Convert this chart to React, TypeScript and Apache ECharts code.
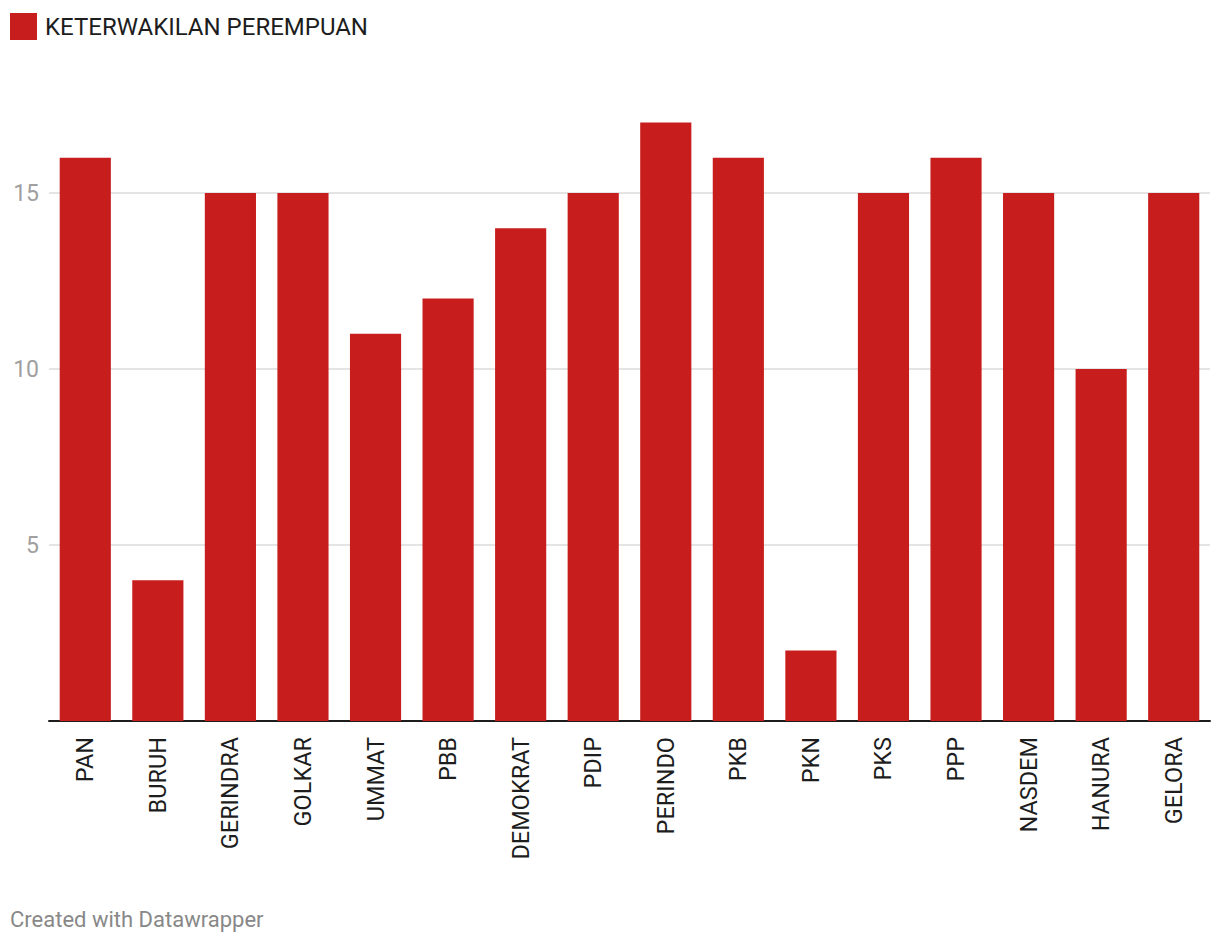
import React, { useEffect, useRef } from "react";
import * as echarts from "echarts";

const categories = ["PAN", "BURUH", "GERINDRA", "GOLKAR", "UMMAT", "PBB", "DEMOKRAT", "PDIP", "PERINDO", "PKB", "PKN", "PKS", "PPP", "NASDEM", "HANURA", "GELORA"];
const values = [16, 4, 15, 15, 11, 12, 14, 15, 17, 16, 2, 15, 16, 15, 10, 15];
const seriesName = "KETERWAKILAN PEREMPUAN";
const footer = "Created with Datawrapper";

export default function App() {
  const ref = useRef<HTMLDivElement>(null);
  useEffect(() => {
    if (!ref.current) return;
    const chart = echarts.init(ref.current, null, { renderer: "svg" });
    chart.setOption({
      animation: false,
      textStyle: { fontFamily: "Roboto" },
      legend: {
        left: 2,
        top: 5,
        padding: 0,
        icon: "rect",
        itemWidth: 27,
        itemHeight: 27,
        itemGap: 10,
        textStyle: { fontSize: 24, color: "#1d1d1d", fontFamily: "Roboto", padding: [0, 0, 0, 3] },
        data: [seriesName],
      },
      graphic: [
        {
          type: "text",
          left: 2,
          top: 900,
          style: { text: footer, fontSize: 22, fill: "#888888", fontFamily: "Roboto" },
        },
      ],
      grid: { left: 41, right: 2, top: 114.6, bottom: 215, containLabel: false },
      xAxis: {
        type: "category",
        data: categories,
        axisLine: { lineStyle: { color: "#1d1d1d", width: 2 } },
        axisTick: { show: false },
        axisLabel: { rotate: 90, fontSize: 23.5, color: "#1d1d1d", margin: 16, interval: 0, fontFamily: "Roboto" },
      },
      yAxis: {
        type: "value",
        min: 0,
        max: 17,
        interval: 5,
        axisLine: { show: false },
        axisTick: { show: false },
        axisLabel: { fontSize: 23, color: "#a0a0a0", margin: 10, showMaxLabel: false, showMinLabel: false, fontFamily: "Roboto",
          formatter: (v: number) => (v === 0 || v === 17 ? "" : String(v)) },
        splitLine: { show: true, showMinLine: false, showMaxLine: false, lineStyle: { color: "#e4e4e4", width: 2 } },
      },
      series: [
        {
          name: seriesName,
          type: "bar",
          data: values,
          barCategoryGap: "29.5%",
          itemStyle: { color: "#c71e1d" },
        },
      ],
    });
    return () => chart.dispose();
  }, []);
  return <div ref={ref} style={{ width: 1204, height: 928 }} />;
}
